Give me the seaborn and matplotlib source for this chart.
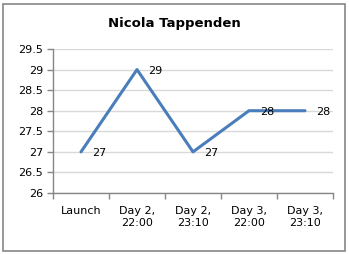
import matplotlib
matplotlib.use("Agg")
import matplotlib.pyplot as plt
import seaborn as sns
import pandas as pd
from matplotlib.patches import Rectangle
from matplotlib.ticker import FixedLocator

categories = ["Launch", "Day 2,\n22:00", "Day 2,\n23:10", "Day 3,\n22:00", "Day 3,\n23:10"]
values = [27, 29, 27, 28, 28]
title = "Nicola Tappenden"
yticks = [26, 26.5, 27, 27.5, 28, 28.5, 29, 29.5]

sns.set_theme(style="white")
plt.rcParams['font.family'] = ['DejaVu Sans']

df = pd.DataFrame({"cat": categories, "val": values})

fig = plt.figure(figsize=(3.49, 2.54), dpi=100)
ax = fig.add_axes([53/349, 1-193/254, 280/349, 144/254])

sns.lineplot(data=df, x="cat", y="val", sort=False, ax=ax, color="#4A7EBB", linewidth=2.2)

ax.set_xlim(-0.5, len(categories)-0.5)
ax.set_ylim(26, 29.5)
ax.set_yticks(yticks)
ax.set_yticklabels([f"{v:g}" for v in yticks], fontsize=8, color="black")
ax.set_xticks(range(len(categories)))
ax.set_xticklabels(categories, fontsize=8, color="black", linespacing=1.35)
ax.xaxis.set_minor_locator(FixedLocator([i-0.5 for i in range(len(categories)+1)]))
ax.tick_params(axis="x", which="major", length=0, pad=9)
ax.tick_params(axis="x", which="minor", length=4, width=1, color="#868686", direction="out", bottom=True)
ax.tick_params(axis="y", length=4, width=1, color="#868686", direction="out", left=True, pad=3)
ax.set_xlabel("")
ax.set_ylabel("")
ax.grid(axis="y", color="#D9D9D9", linewidth=1)
ax.set_axisbelow(True)
for s in ["top", "right"]:
    ax.spines[s].set_visible(False)
for s in ["left", "bottom"]:
    ax.spines[s].set_color("#868686")
    ax.spines[s].set_linewidth(1)

for i, v in enumerate(values):
    ax.annotate(f"{v:g}", (i, v), xytext=(8, -1), textcoords="offset points",
                ha="left", va="center", fontsize=8, color="black")

fig.text(0.5, 1-23/254, title, ha="center", va="center", fontsize=9.5, fontweight="bold", color="black")
fig.patches.append(Rectangle((3/349, 3/254), 342/349, 247/254, transform=fig.transFigure,
                             fill=False, edgecolor="#868686", linewidth=1.2))

fig.savefig("out.png", dpi=100)
